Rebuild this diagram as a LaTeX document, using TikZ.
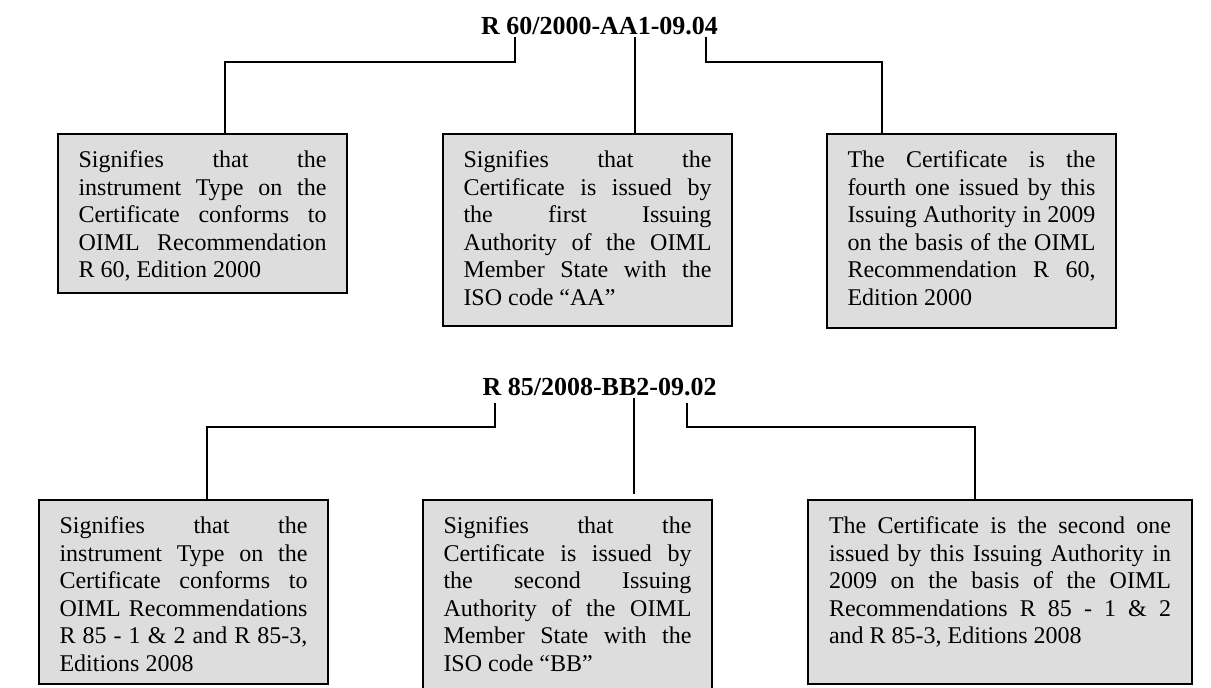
\documentclass[tikz,border=0pt]{standalone}
\usepackage{fontspec}
\setmainfont{Liberation Serif}
\definecolor{notegray}{RGB}{221,221,221}
\tolerance=10000
\hbadness=10000
\begin{document}
\begin{tikzpicture}[x=0.5pt,y=-0.5pt,
  note/.style={draw=black, line width=1pt, fill=notegray, anchor=north west,
    inner xsep=10.25pt, inner ysep=0pt, text width=124pt, align=justify,
    text height=17pt, font=\fontsize{12}{13.75}\selectfont},
  code/.style={anchor=base, inner sep=0pt, font=\fontsize{13}{15}\selectfont\bfseries},
  link/.style={line width=0.7pt}]

  % Parameters definitions
  \def\topy{133}  % Top of the upper notes
  \def\boty{499}  % Top of the lower notes
  \def\elbowa{62} % Elbow of the upper links
  \def\elbowb{427} % Elbow of the lower links

  \useasboundingbox (0,0) rectangle (1211,688);

  % Code 1
  \node[code] (codeA) at (599.5,35) {R 60/2000-AA1-09.04};
  \coordinate[] (codeAl) at (515,37);
  \coordinate[] (codeAc) at (635,37);
  \coordinate[] (codeAr) at (706,37);

  \node[note, text depth=62.5pt] (noteA1) at (57,\topy)
    {Signifies that the\linebreak instrument Type on the\linebreak Certificate conforms to\linebreak OIML Recommendation\linebreak R 60, Edition 2000};
  \node[note, text depth=79pt] (noteA2) at (442,\topy)
    {Signifies that the\linebreak Certificate is issued by\linebreak the first Issuing\linebreak Authority of the OIML\linebreak Member State with the\linebreak ISO code ``AA''};
  \node[note, text depth=80pt] (noteA3) at (826,\topy)
    {The Certificate is the\linebreak fourth one issued by this\linebreak Issuing Authority in 2009\linebreak on the basis of the OIML\linebreak Recommendation R 60,\linebreak Edition 2000};

  \coordinate[] (colA1) at (225,0);
  \coordinate[] (colA3) at (882,0);
  \draw[link] (codeAl) -- ++(0,\elbowa-37) -| (colA1 |- noteA1.north);
  \draw[link] (codeAc) -- (codeAc |- noteA2.north);
  \draw[link] (codeAr) -- ++(0,\elbowa-37) -| (colA3 |- noteA3.north);
  % Code 1 END

  % Code 2
  \node[code] (codeB) at (599.5,396) {R 85/2008-BB2-09.02};
  \coordinate[] (codeBl) at (495,403);
  \coordinate[] (codeBc) at (634,398);
  \coordinate[] (codeBr) at (687,403);

  \node[note, text depth=75pt] (noteB1) at (38,\boty)
    {Signifies that the\linebreak instrument Type on the\linebreak Certificate conforms to\linebreak OIML Recommendations\linebreak R 85 - 1 \& 2 and R 85-3,\linebreak Editions 2008};
  \node[note, text depth=80pt] (noteB2) at (422,\boty)
    {Signifies that the\linebreak Certificate is issued by\linebreak the second Issuing\linebreak Authority of the OIML\linebreak Member State with the\linebreak ISO code ``BB''};
  \node[note, text depth=75pt, text width=171pt, inner xsep=10.5pt] (noteB3) at (807,\boty)
    {The Certificate is the second one\linebreak issued by this Issuing Authority in\linebreak 2009 on the basis of the OIML\linebreak Recommendations R 85 - 1 \& 2\linebreak and R 85-3, Editions 2008};

  \coordinate[] (colB1) at (207,0);
  \coordinate[] (colB3) at (975,0);
  \draw[link] (codeBl) -- ++(0,\elbowb-403) -| (colB1 |- noteB1.north);
  \draw[link, shorten >=2.5pt] (codeBc) -- (codeBc |- noteB2.north);
  \draw[link] (codeBr) -- ++(0,\elbowb-403) -| (colB3 |- noteB3.north);
  % Code 2 END
\end{tikzpicture}
\end{document}
